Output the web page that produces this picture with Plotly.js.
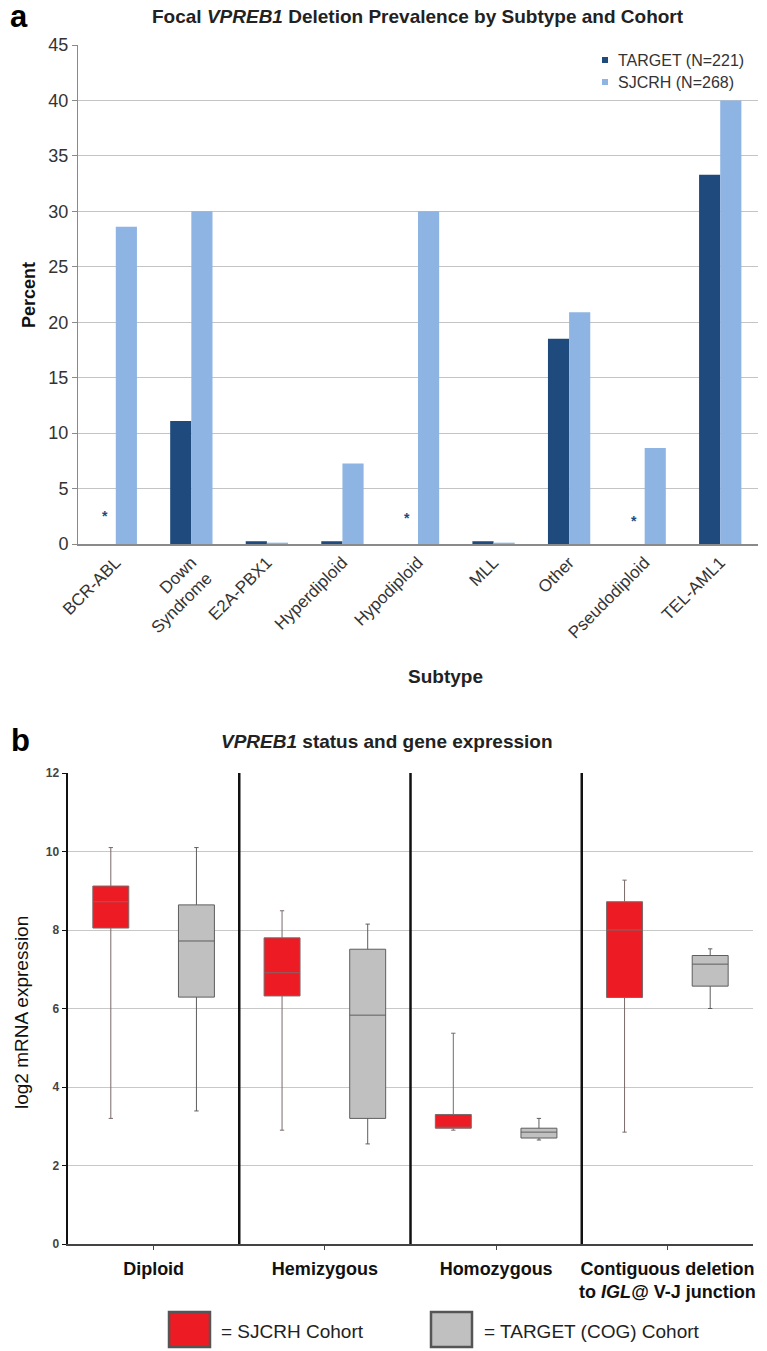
<!DOCTYPE html>
<html>
<head>
<meta charset="utf-8">
<script src="https://cdn.plot.ly/plotly-3.0.1.min.js"></script>
<style>html,body{margin:0;padding:0;background:#fff;}#chart{width:767px;height:1351px;}</style>
</head>
<body>
<div id="chart"></div>
<script>
// ---- Panel a data ----
const subtypes = ["BCR-ABL", "Down<br>Syndrome", "E2A-PBX1", "Hyperdiploid", "Hypodiploid", "MLL", "Other", "Pseudodiploid", "TEL-AML1"];
const targetPct = [0, 11.1, 0.25, 0.25, 0, 0.25, 18.5, 0, 33.3];
const sjcrhPct  = [28.6, 30.0, 0.12, 7.25, 30.0, 0.12, 20.9, 8.65, 40.0];
const starSubtypes = ["BCR-ABL", "Hypodiploid", "Pseudodiploid"];
const starLevel = [2.9, 2.7, 2.4];

// ---- Panel b data ----
const statuses = ["Diploid", "Hemizygous", "Homozygous", "Contiguous deletion<br>to <i>IGL@</i> V-J junction"];
const sjLower  = [3.2, 2.9, 2.9, 2.85];
const sjQ1     = [8.05, 6.32, 2.95, 6.28];
const sjMedian = [8.72, 6.91, 2.97, 8.0];
const sjQ3     = [9.12, 7.8, 3.3, 8.72];
const sjUpper  = [10.1, 8.49, 5.37, 9.27];
const tgLower  = [3.39, 2.55, 2.65, 6.0];
const tgQ1     = [6.29, 3.2, 2.7, 6.57];
const tgMedian = [7.72, 5.83, 2.85, 7.13];
const tgQ3     = [8.64, 7.51, 2.95, 7.35];
const tgUpper  = [10.1, 8.15, 3.2, 7.52];

const W = 767, H = 1351;
const px = x => x / W;
const py = y => 1 - y / H;
const FONT = "Liberation Sans, Arial, Helvetica, sans-serif";
const cTarget = "#1f4a7d", cSj = "#8db4e2";
const cRed = "#ed1c24", cGray = "#c0c0c0";

const traces = [
  {type: "bar", name: "TARGET (N=221)", x: subtypes, y: targetPct, marker: {color: cTarget}, xaxis: "x", yaxis: "y", showlegend: false},
  {type: "bar", name: "SJCRH (N=268)", x: subtypes, y: sjcrhPct, marker: {color: cSj}, xaxis: "x", yaxis: "y", showlegend: false},
  {type: "box", name: "SJCRH Cohort", x: statuses, q1: sjQ1, median: sjMedian, q3: sjQ3, lowerfence: sjLower, upperfence: sjUpper,
   fillcolor: cRed, line: {color: "#7a6a6a", width: 1}, whiskerwidth: 0.12, xaxis: "x2", yaxis: "y2", showlegend: false},
  {type: "box", name: "TARGET (COG) Cohort", x: statuses, q1: tgQ1, median: tgMedian, q3: tgQ3, lowerfence: tgLower, upperfence: tgUpper,
   fillcolor: cGray, line: {color: "#5e5e5e", width: 1}, whiskerwidth: 0.12, xaxis: "x2", yaxis: "y2", showlegend: false}
];

function note(text, x, y, size, opts) {
  return Object.assign({text: text, x: px(x), y: py(y), xref: "paper", yref: "paper", xanchor: "center", yanchor: "middle",
    showarrow: false, font: {size: size, family: FONT, color: "#222"}}, opts || {});
}

const annotations = [
  note("<b>a</b>", 19, 17, 31, {font: {size: 31, family: FONT, color: "#000"}}),
  note("<b>Focal <i>VPREB1</i> Deletion Prevalence by Subtype and Cohort</b>", 418, 17, 19),
  note("<b>Percent</b>", 29, 295, 18, {textangle: -90, font: {size: 18, family: FONT, color: "#111"}}),
  note("<b>Subtype</b>", 445, 677, 19),
  note("<b>b</b>", 20, 740, 31, {font: {size: 31, family: FONT, color: "#000"}}),
  note("<b><i>VPREB1</i> status and gene expression</b>", 387, 742, 19),
  note("log2 mRNA expression", 22, 1013, 19, {textangle: -90, font: {size: 19, family: FONT, color: "#111"}}),
  // top legend labels
  note("TARGET (N=221)", 616, 60, 16, {xanchor: "left", font: {size: 16, family: FONT, color: "#333"}}),
  note("SJCRH (N=268)", 616, 82, 16, {xanchor: "left", font: {size: 16, family: FONT, color: "#333"}}),
  // bottom legend labels
  note("= SJCRH Cohort", 219, 1331, 19, {xanchor: "left"}),
  note("= TARGET (COG) Cohort", 482, 1331, 19, {xanchor: "left"})
];
// asterisks for missing TARGET values
starSubtypes.forEach((s, i) => {
  annotations.push({text: "<b>*</b>", x: s, y: starLevel[i], xref: "x", yref: "y", xanchor: "center", yanchor: "middle",
    xshift: -11, yshift: -4, showarrow: false, font: {size: 14, family: FONT, color: cTarget}});
});

const shapes = [
  // top legend squares
  {type: "rect", xref: "paper", yref: "paper", x0: px(602), x1: px(608), y0: py(57), y1: py(63), fillcolor: cTarget, line: {width: 0}},
  {type: "rect", xref: "paper", yref: "paper", x0: px(602), x1: px(608), y0: py(79), y1: py(85), fillcolor: cSj, line: {width: 0}},
  // bottom legend boxes
  {type: "rect", xref: "paper", yref: "paper", x0: px(169), x1: px(210), y0: py(1312), y1: py(1347), fillcolor: cRed, line: {color: "#555", width: 2.5}},
  {type: "rect", xref: "paper", yref: "paper", x0: px(431), x1: px(472), y0: py(1312), y1: py(1347), fillcolor: cGray, line: {color: "#555", width: 2.5}}
];
// separators between status groups
for (let i = 0; i < statuses.length - 1; i++) {
  shapes.push({type: "line", xref: "x2", yref: "y2", x0: i + 0.5, x1: i + 0.5, y0: 0, y1: 12, line: {color: "#111", width: 2.5}});
}

const layout = {
  width: W, height: H,
  margin: {l: 0, r: 0, t: 0, b: 0},
  paper_bgcolor: "#fff", plot_bgcolor: "#fff",
  font: {family: FONT, color: "#333"},
  barmode: "group", bargap: 0.44, bargroupgap: 0,
  boxmode: "group", boxgap: 0.0, boxgroupgap: 0.58,
  showlegend: false,
  xaxis: {domain: [px(78), px(758)], anchor: "y", type: "category", range: [-0.5, 8.5],
    showline: true, linecolor: "#8a8a8a", linewidth: 2, ticks: "", tickangle: -45,
    tickfont: {size: 17, family: FONT, color: "#333"}, automargin: false, showgrid: false, zeroline: false},
  yaxis: {domain: [py(544), py(45)], anchor: "x", range: [0, 45], dtick: 5, tick0: 0,
    showline: true, linecolor: "#8a8a8a", linewidth: 1, ticks: "outside", ticklen: 5, tickcolor: "#8a8a8a",
    gridcolor: "#c4c4c4", gridwidth: 1, zeroline: false, tickfont: {size: 18, family: FONT, color: "#333"}, automargin: false},
  xaxis2: {domain: [px(68), px(753)], anchor: "y2", type: "category", range: [-0.5, 3.5],
    showline: true, linecolor: "#444", linewidth: 2, ticks: "outside", ticklen: 4, tickcolor: "#444", ticklabelstandoff: 3,
    tickfont: {size: 18, family: FONT, color: "#111", weight: "bold"}, automargin: false, showgrid: false, zeroline: false},
  yaxis2: {domain: [py(1244), py(773)], anchor: "x2", range: [0, 12], dtick: 2, tick0: 0,
    showline: true, linecolor: "#111", linewidth: 2.5, ticks: "outside", ticklen: 4, tickcolor: "#111",
    gridcolor: "#c8c8c8", gridwidth: 1, zeroline: false, tickfont: {size: 12, family: FONT, color: "#444", weight: "bold"}, automargin: false},
  annotations: annotations,
  shapes: shapes
};

Plotly.newPlot("chart", traces, layout, {displayModeBar: false, staticPlot: true});
</script>
</body>
</html>
